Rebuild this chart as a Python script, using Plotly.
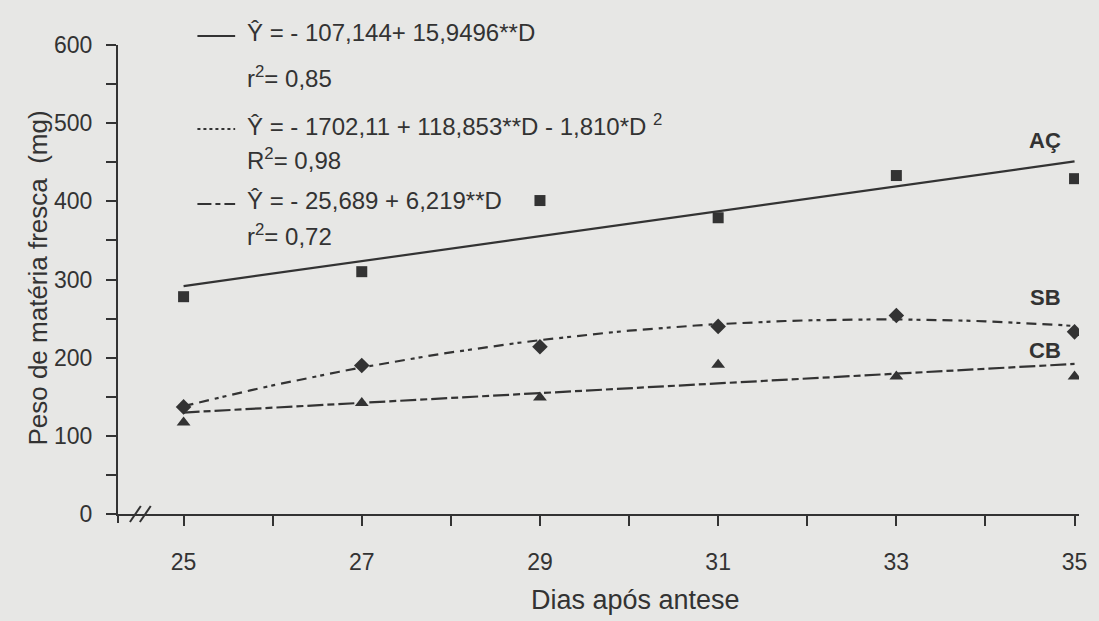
import numpy as np
import plotly.graph_objects as go

# Days after anthesis and observed fresh-matter weight (mg)
dias = [25, 27, 29, 31, 33, 35]
peso_ac = [278, 310, 401, 379, 433, 429]
peso_sb = [137, 190, 214, 240, 254, 233]
peso_cb = [117, 142, 149, 191, 176, 176]

# Regression coefficients printed on the chart (intercept, D, D^2)
coef_ac = [-107.144, 15.9496, 0.0]
coef_sb = [-1702.11, 118.853, -1.810]
coef_cb = [-25.689, 6.219, 0.0]

x_ticks = [25, 27, 29, 31, 33, 35]

INK = "#333333"
BG = "#e7e7e5"
FONT = "Liberation Sans, Arial, sans-serif"

# plot-area geometry (pixels)
W, H = 1099, 621
L, R, T, B = 118, 13, 45, 107
PW, PH = W - L - R, H - T - B


def xp(px):
    return (px - L) / PW


def yp(py):
    return (H - B - py) / PH


def fit(coef, d):
    d = np.asarray(d, dtype=float)
    return coef[0] + coef[1] * d + coef[2] * d ** 2


d_fit = np.linspace(dias[0], dias[-1], 41)

fig = go.Figure()

series = [
    ("AÇ", peso_ac, coef_ac, "square", "solid", 11),
    ("SB", peso_sb, coef_sb, "diamond", "10px,6px,10px,6px,4px,4px,4px,6px", 12),
    ("CB", peso_cb, coef_cb, "triangle-up", "16px,4px,7px,4px", 12),
]

for name, obs, coef, sym, dash, msize in series:
    fig.add_trace(go.Scatter(
        x=d_fit, y=fit(coef, d_fit), mode="lines",
        line=dict(color=INK, width=2.2, dash=dash),
        showlegend=False, hoverinfo="skip"))
    fig.add_trace(go.Scatter(
        x=dias, y=obs, mode="markers", name=name,
        marker=dict(symbol=sym, size=msize, color=INK),
        showlegend=False))

# equation block
eq_lines = [
    ("Ŷ = - 107,144+ 15,9496**D", 32, "solid"),
    ("r<sup>2</sup>= 0,85", 77, None),
    ("Ŷ = - 1702,11 + 118,853**D - 1,810*D <sup>2</sup>", 125, "dot"),
    ("R<sup>2</sup>= 0,98", 159, None),
    ("Ŷ = - 25,689 + 6,219**D", 200, "14px,4px,5px,4px"),
    ("r<sup>2</sup>= 0,72", 235, None),
]

annotations = []
shapes = []
for text, py, dash in eq_lines:
    annotations.append(dict(
        x=xp(246), y=yp(py), xref="paper", yref="paper",
        xanchor="left", yanchor="middle", showarrow=False,
        text=text, font=dict(family=FONT, size=24, color=INK)))
    if dash:
        shapes.append(dict(
            type="line", xref="paper", yref="paper",
            x0=xp(198), x1=xp(236), y0=yp(py + 4), y1=yp(py + 4),
            line=dict(color=INK, width=2, dash=dash)))

# curve labels
for text, px, py in [("AÇ", 1052, 140), ("SB", 1052, 297), ("CB", 1052, 350)]:
    annotations.append(dict(
        x=xp(px), y=yp(py), xref="paper", yref="paper",
        xanchor="center", yanchor="middle", showarrow=False,
        text=f"<b>{text}</b>", font=dict(family=FONT, size=22, color=INK)))

# axis titles
annotations.append(dict(
    x=xp(37), y=yp(278), xref="paper", yref="paper", textangle=-90,
    xanchor="center", yanchor="middle", showarrow=False,
    text="Peso de matéria fresca  (mg)",
    font=dict(family=FONT, size=26, color=INK)))
annotations.append(dict(
    x=xp(639), y=yp(600), xref="paper", yref="paper",
    xanchor="center", yanchor="middle", showarrow=False,
    text="Dias após antese",
    font=dict(family=FONT, size=27, color=INK)))

# axis break marks and the short stub of the y axis below zero
for x0 in (130, 140):
    shapes.append(dict(
        type="line", xref="paper", yref="paper",
        x0=xp(x0), x1=xp(x0 + 11), y0=yp(522), y1=yp(506),
        line=dict(color=INK, width=2)))
shapes.append(dict(
    type="line", xref="paper", yref="paper",
    x0=0, x1=0, y0=yp(514), y1=yp(523),
    line=dict(color=INK, width=2)))

fig.update_layout(
    width=W, height=H,
    margin=dict(l=L, r=R, t=T, b=B, pad=0),
    paper_bgcolor=BG, plot_bgcolor=BG,
    font=dict(family=FONT, size=23, color=INK),
    annotations=annotations, shapes=shapes,
    showlegend=False,
)

fig.update_xaxes(
    range=[24.264, 35.05], tickvals=x_ticks,
    ticktext=[str(v) for v in x_ticks],
    showgrid=False, zeroline=False,
    showline=True, linecolor=INK, linewidth=2,
    ticks="outside", ticklen=10, tickwidth=2, tickcolor=INK,
    ticklabelstandoff=16,
    minor=dict(ticks="outside", dtick=1, tick0=25, ticklen=10,
               tickwidth=2, tickcolor=INK, showgrid=False),
    tickfont=dict(family=FONT, size=23, color=INK),
)
fig.update_yaxes(
    range=[0, 600], dtick=100, tick0=0,
    showgrid=False, zeroline=False,
    showline=True, linecolor=INK, linewidth=2,
    ticks="outside", ticklen=10, tickwidth=2, tickcolor=INK,
    ticklabelstandoff=9,
    minor=dict(ticks="outside", dtick=50, ticklen=10,
               tickwidth=2, tickcolor=INK, showgrid=False),
    tickfont=dict(family=FONT, size=23, color=INK),
)

fig.write_html("out.html")
